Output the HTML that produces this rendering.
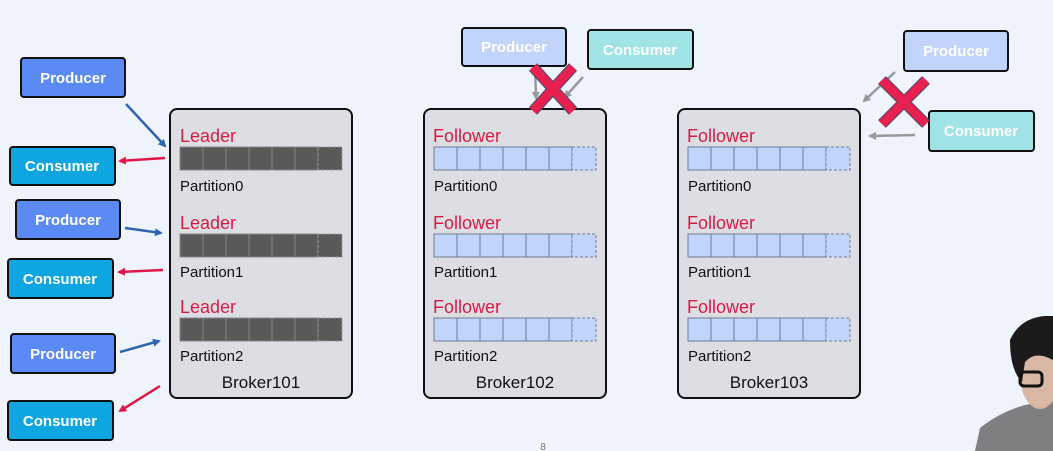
<!DOCTYPE html>
<html><head><meta charset="utf-8"><style>
body{margin:0;background:#eef3fc;}
svg{display:block;font-family:"Liberation Sans","DejaVu Sans",sans-serif;}
</style></head><body>
<svg width="1053" height="451" viewBox="0 0 1053 451" xmlns="http://www.w3.org/2000/svg">
<defs>
<marker id="ab" markerWidth="8" markerHeight="8" refX="6" refY="4" orient="auto" markerUnits="userSpaceOnUse"><path d="M0,0 L8,4 L0,8 z" fill="#2e64b0"/></marker>
<marker id="ar" markerWidth="8" markerHeight="8" refX="6" refY="4" orient="auto" markerUnits="userSpaceOnUse"><path d="M0,0 L8,4 L0,8 z" fill="#e0184a"/></marker>
<marker id="ag" markerWidth="8" markerHeight="8" refX="6" refY="4" orient="auto" markerUnits="userSpaceOnUse"><path d="M0,0 L8,4 L0,8 z" fill="#999"/></marker>
<g id="barD">
<rect x="0" y="0" width="138" height="23" fill="#595959" stroke="#888" stroke-width="1"/>
<path d="M23,0v23M46,0v23M69,0v23M92,0v23M115,0v23M138,0v23" stroke="#888"/>
<rect x="138" y="0" width="24" height="23" fill="#595959" stroke="#999" stroke-dasharray="3,2"/>
</g>
<g id="barL">
<rect x="0" y="0" width="138" height="23" fill="#c2d4fb" stroke="#6e7a90" stroke-width="1"/>
<path d="M23,0v23M46,0v23M69,0v23M92,0v23M115,0v23" stroke="#6e7a90"/>
<rect x="138" y="0" width="24" height="23" fill="#c2d4fb" stroke="#6e7a90" stroke-dasharray="3,2"/>
</g>
</defs>

<!-- brokers -->
<g font-size="17">
<rect x="170" y="109" width="182" height="289" rx="7" fill="#dddee3" stroke="#111" stroke-width="2"/>
<rect x="424" y="109" width="182" height="289" rx="7" fill="#dddee3" stroke="#111" stroke-width="2"/>
<rect x="678" y="109" width="182" height="289" rx="7" fill="#dddee3" stroke="#111" stroke-width="2"/>

<g fill="#d81b45" font-size="18">
<text x="180" y="142">Leader</text><text x="180" y="229">Leader</text><text x="180" y="313">Leader</text>
<text x="433" y="142">Follower</text><text x="433" y="229">Follower</text><text x="433" y="313">Follower</text>
<text x="687" y="142">Follower</text><text x="687" y="229">Follower</text><text x="687" y="313">Follower</text>
</g>
<use href="#barD" x="180" y="147"/><use href="#barD" x="180" y="234"/><use href="#barD" x="180" y="318"/>
<use href="#barL" x="434" y="147"/><use href="#barL" x="434" y="234"/><use href="#barL" x="434" y="318"/>
<use href="#barL" x="688" y="147"/><use href="#barL" x="688" y="234"/><use href="#barL" x="688" y="318"/>
<g fill="#111" font-size="15">
<text x="180" y="191">Partition0</text><text x="180" y="277">Partition1</text><text x="180" y="361">Partition2</text>
<text x="434" y="191">Partition0</text><text x="434" y="277">Partition1</text><text x="434" y="361">Partition2</text>
<text x="688" y="191">Partition0</text><text x="688" y="277">Partition1</text><text x="688" y="361">Partition2</text>
</g>
<g fill="#111" font-size="17" text-anchor="middle">
<text x="261" y="388">Broker101</text><text x="515" y="388">Broker102</text><text x="769" y="388">Broker103</text>
</g>
</g>

<!-- left clients -->
<g font-size="15" font-weight="bold" fill="#fff" text-anchor="middle" stroke="none">
<rect x="21" y="58" width="104" height="39" rx="3" fill="#5b8af5" stroke="#111" stroke-width="2"/><text x="73" y="83" fill="#fff">Producer</text>
<rect x="10" y="147" width="105" height="38" rx="3" fill="#0ea5e0" stroke="#111" stroke-width="2"/><text x="62" y="171" fill="#fff">Consumer</text>
<rect x="16" y="200" width="104" height="39" rx="3" fill="#5b8af5" stroke="#111" stroke-width="2"/><text x="68" y="225" fill="#fff">Producer</text>
<rect x="8" y="259" width="105" height="39" rx="3" fill="#0ea5e0" stroke="#111" stroke-width="2"/><text x="60" y="284" fill="#fff">Consumer</text>
<rect x="11" y="334" width="104" height="39" rx="3" fill="#5b8af5" stroke="#111" stroke-width="2"/><text x="63" y="359" fill="#fff">Producer</text>
<rect x="8" y="401" width="105" height="39" rx="3" fill="#0ea5e0" stroke="#111" stroke-width="2"/><text x="60" y="426" fill="#fff">Consumer</text>

<rect x="462" y="28" width="104" height="38" rx="3" fill="#c2d4fb" stroke="#111" stroke-width="2"/><text x="514" y="52" fill="#fff">Producer</text>
<rect x="588" y="30" width="105" height="39" rx="3" fill="#a0e4e6" stroke="#111" stroke-width="2"/><text x="640" y="55" fill="#fff">Consumer</text>
<rect x="904" y="31" width="104" height="40" rx="3" fill="#c2d4fb" stroke="#111" stroke-width="2"/><text x="956" y="56" fill="#fff">Producer</text>
<rect x="929" y="111" width="105" height="40" rx="3" fill="#a0e4e6" stroke="#111" stroke-width="2"/><text x="981" y="136" fill="#fff">Consumer</text>
</g>

<!-- arrows -->
<g stroke-width="2.5" fill="none">
<line x1="126" y1="104" x2="165" y2="146" stroke="#2e64b0" marker-end="url(#ab)"/>
<line x1="165" y1="158" x2="120" y2="161" stroke="#e0184a" marker-end="url(#ar)"/>
<line x1="125" y1="228" x2="161" y2="233" stroke="#2e64b0" marker-end="url(#ab)"/>
<line x1="163" y1="270" x2="119" y2="272" stroke="#e0184a" marker-end="url(#ar)"/>
<line x1="120" y1="352" x2="159" y2="341" stroke="#2e64b0" marker-end="url(#ab)"/>
<line x1="160" y1="386" x2="120" y2="411" stroke="#e0184a" marker-end="url(#ar)"/>
<line x1="535" y1="67" x2="536" y2="98" stroke="#999" marker-end="url(#ag)"/>
<line x1="583" y1="77" x2="565" y2="97" stroke="#999" marker-end="url(#ag)"/>
<line x1="895" y1="72" x2="864" y2="101" stroke="#999" marker-end="url(#ag)"/>
<line x1="915" y1="135" x2="870" y2="136" stroke="#999" marker-end="url(#ag)"/>
</g>
<!-- X marks -->
<g stroke="#4a4a6a" stroke-width="11" stroke-linecap="butt">
<path d="M533,67 L573,111 M573,67 L533,111"/>
<path d="M882,80 L926,124 M926,80 L882,124"/>
</g>
<g stroke="#e8204f" stroke-width="9">
<path d="M533,67 L573,111 M573,67 L533,111"/>
<path d="M882,80 L926,124 M926,80 L882,124"/>
</g>

<text x="543" y="450" font-size="10" fill="#777" text-anchor="middle">8</text>

<!-- person -->
<path d="M975,451 L980,428 Q1000,412 1025,405 L1053,400 L1053,451 Z" fill="#7f7f82"/>
<ellipse cx="1040" cy="375" rx="20" ry="34" fill="#d8b8a5"/>
<path d="M1010,340 Q1020,318 1045,316 L1053,316 L1053,360 Q1035,350 1025,362 L1022,382 Q1010,370 1010,340 Z" fill="#1b1b1b"/>
<rect x="1020" y="372" width="22" height="14" rx="4" fill="none" stroke="#111" stroke-width="3"/>
</svg>
</body></html>
